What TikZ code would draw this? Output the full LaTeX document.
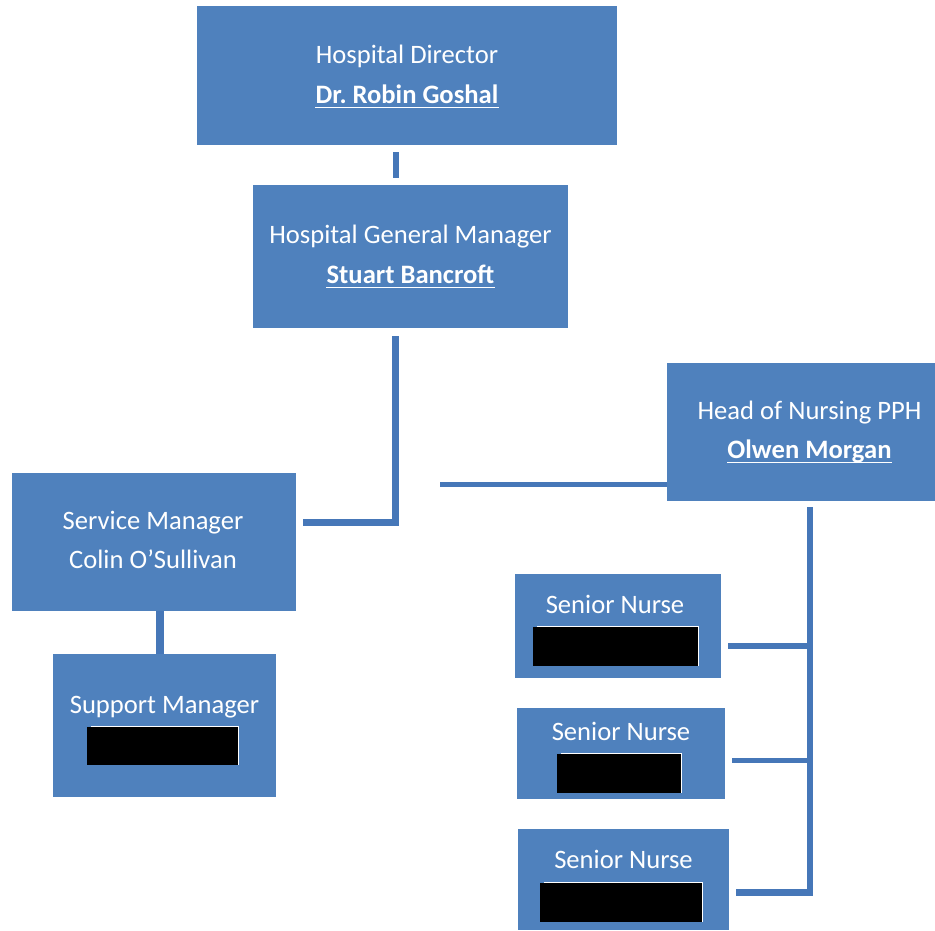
\documentclass[tikz,border=0pt]{standalone}
\usepackage{fontspec}
\setmainfont{Carlito}
\frenchspacing
\definecolor{boxblue}{HTML}{4F81BD}
\definecolor{lineblue}{HTML}{4677B8}
\tikzset{
  box/.style={draw=none, fill=boxblue, inner sep=0pt, rectangle},
  txt/.style={text=white, inner sep=0pt, anchor=base, font=\fontsize{26.6}{32}\selectfont},
  btxt/.style={txt, font=\fontsize{26.6}{32}\selectfont\bfseries},
  redact/.style={fill=black, inner sep=0pt, rectangle},
  conn/.style={draw=lineblue, line width=6pt, line join=miter},
  uline/.style={draw=white, line width=1.9pt},
  redge/.style={draw=white, line width=1.2pt},
}
\begin{document}
\begin{tikzpicture}[x=1pt,y=-1pt]
\useasboundingbox (0,0) rectangle (935,930);

% boxes
\node[box, minimum width=420pt, minimum height=139pt] (hd) at (407,75.5) {};
\node[box, minimum width=315pt, minimum height=143pt] (gm) at (410.5,256.5) {};
\node[box, minimum width=284pt, minimum height=138pt] (sm) at (154,542) {};
\node[box, minimum width=223pt, minimum height=143pt] (sup) at (164.5,725.5) {};
\node[box, minimum width=268pt, minimum height=138pt] (hon) at (801,432) {};
\node[box, minimum width=206pt, minimum height=104pt] (sn1) at (618,626) {};
\node[box, minimum width=208pt, minimum height=91pt] (sn2) at (621,753.5) {};
\node[box, minimum width=211pt, minimum height=101pt] (sn3) at (623.5,879.5) {};

% texts
\node[txt] (hdt1) at (407,63) {Hospital Director};
\node[btxt] (hdt2) at (407,103) {Dr.\ Robin Goshal};
\draw[uline] ([yshift=-4.5pt]hdt2.base west) -- ([yshift=-4.5pt]hdt2.base east);
\node[txt] (gmt1) at (410.5,243) {Hospital General Manager};
\node[btxt] (gmt2) at (410.5,283) {Stuart Bancroft};
\draw[uline] ([yshift=-4.5pt]gmt2.base west) -- ([yshift=-4.5pt]gmt2.base east);
\node[txt] (smt1) at (153,529) {Service Manager};
\node[txt] (smt2) at (153,568) {Colin O’Sullivan};
\node[txt] (supt) at (164.5,713) {Support Manager};
\node[txt] (hont1) at (809.5,419) {Head of Nursing PPH};
\node[btxt] (hont2) at (809.5,458) {Olwen Morgan};
\draw[uline] ([yshift=-4.5pt]hont2.base west) -- ([yshift=-4.5pt]hont2.base east);
\node[txt] (sn1t) at (615,613) {Senior Nurse};
\node[txt] (sn2t) at (621,740) {Senior Nurse};
\node[txt] (sn3t) at (623.5,868) {Senior Nurse};

% redactions
\node[redact, minimum width=151pt, minimum height=38pt] (supr) at (162.5,746) {};
\node[redact, minimum width=165pt, minimum height=39pt] (sn1r) at (615.5,646.5) {};
\node[redact, minimum width=124pt, minimum height=39pt] (sn2r) at (619,773.5) {};
\node[redact, minimum width=162pt, minimum height=39pt] (sn3r) at (621,902.5) {};
\foreach \r in {supr,sn1r,sn2r,sn3r}{
  \draw[redge] ([xshift=4pt,yshift=0.6pt]\r.north west) -- ([xshift=0.6pt,yshift=0.6pt]\r.north east) -- ([xshift=0.6pt]\r.south east);
}

% connectors
\coordinate (c1) at (395.5,0);
\draw[conn] ([yshift=-7pt]hd.south -| c1) -- ([yshift=7pt]gm.north -| c1);
\coordinate (j1) at (303,522.5);
\draw[conn, line width=6.5pt] ([yshift=-8pt]gm.south -| c1) |- (j1);
\coordinate (j2) at (440,484.5);
\draw[conn, line width=5pt] (j2) -- (j2 -| hon.west);
\coordinate (c3) at (160,0);
\draw[conn, line width=8pt] (sm.south -| c3) -- (sup.north -| c3);
\coordinate (t1) at (810,646);
\coordinate (t2) at (810,760.5);
\coordinate (t3) at (810,892.5);
\draw[conn, line width=6.5pt] ([yshift=-6pt]hon.south -| t3) -- (t3) -- ([xshift=7pt]sn3.east |- t3);
\draw[conn, line width=5.5pt] (t1) -- ([xshift=7pt]sn1.east |- t1);
\draw[conn, line width=5.5pt] (t2) -- ([xshift=7pt]sn2.east |- t2);
\end{tikzpicture}
\end{document}
